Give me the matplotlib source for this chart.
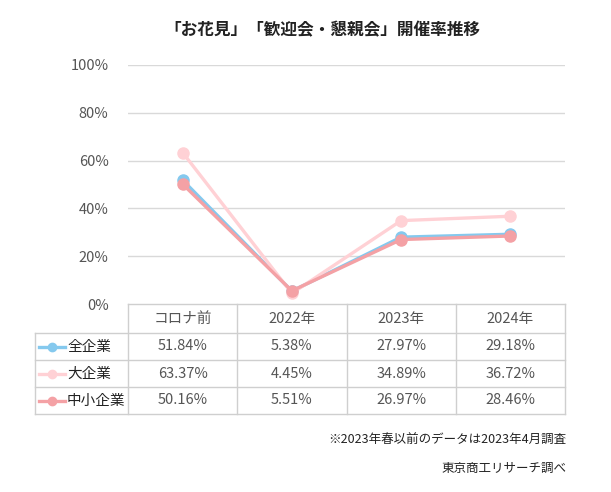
import matplotlib
matplotlib.use("Agg")
import matplotlib.pyplot as plt
from matplotlib.lines import Line2D

plt.rcParams['font.family'] = ['Noto Sans CJK JP', 'DejaVu Sans']

title = "「お花見」「歓迎会・懇親会」開催率推移"
categories = ["コロナ前", "2022年", "2023年", "2024年"]
series_names = ["全企業", "大企業", "中小企業"]
all_firms = [51.84, 5.38, 27.97, 29.18]
large_firms = [63.37, 4.45, 34.89, 36.72]
small_firms = [50.16, 5.51, 26.97, 28.46]
yticks = [0, 20, 40, 60, 80, 100]
note = "※2023年春以前のデータは2023年4月調査"
source = "東京商工リサーチ調べ"

series = [all_firms, large_firms, small_firms]
colors = ["#85c9ee", "#ffd1d5", "#f4a1a5"]

W, H = 611, 492
fig = plt.figure(figsize=(W / 100, H / 100), dpi=100)

def fx(px):
    return px / W

def fy(py):
    return 1 - py / H

ax_l, ax_r, ax_t, ax_b = 128, 565, 65, 304
ax = fig.add_axes([fx(ax_l), fy(ax_b), fx(ax_r) - fx(ax_l), fy(ax_t) - fy(ax_b)])
n = len(categories)
x = list(range(n))
for vals, c in zip(series, colors):
    ax.plot(x, vals, color=c, lw=2.4, marker='o', ms=8, solid_capstyle='round', zorder=3)
ax.set_xlim(-0.5, n - 0.5)
ax.set_ylim(0, 100)
ax.set_yticks(yticks)
ax.set_yticklabels([f"{v}%" for v in yticks], fontsize=10.5, color="#555555")
ax.set_xticks([])
ax.tick_params(axis='y', length=0, pad=14)
for s in ax.spines.values():
    s.set_visible(False)
for v in yticks[1:]:
    ax.axhline(v, color="#d9d9d9", lw=1, zorder=1)
ax.set_facecolor('none')

fig.text(fx(322), fy(30), title, ha='center', va='center', fontsize=12, fontweight='bold', color="#222222")

# Table
tab_left = 35
col_edges = [ax_l + (ax_r - ax_l) * i / n for i in range(n + 1)]
row_edges = [304, 333, 360, 387, 414]
tax = fig.add_axes([0, 0, 1, 1])
tax.set_xlim(0, W)
tax.set_ylim(H, 0)
tax.axis('off')
gc = "#cfcfcf"
tax.plot([ax_l, ax_r], [row_edges[0]] * 2, color=gc, lw=1)
for yv in row_edges[1:]:
    tax.plot([tab_left, ax_r], [yv, yv], color=gc, lw=1)
tax.plot([tab_left, tab_left], [row_edges[1], row_edges[-1]], color=gc, lw=1)
for xv in col_edges:
    tax.plot([xv, xv], [row_edges[0], row_edges[-1]], color=gc, lw=1)
tc = "#555555"
for i, cat in enumerate(categories):
    cx = (col_edges[i] + col_edges[i + 1]) / 2
    tax.text(cx, (row_edges[0] + row_edges[1]) / 2, cat, ha='center', va='center', fontsize=10.5, color=tc)
for r, (name, vals, c) in enumerate(zip(series_names, series, colors)):
    cy = (row_edges[r + 1] + row_edges[r + 2]) / 2
    tax.add_line(Line2D([tab_left + 4, tab_left + 30], [cy, cy], color=c, lw=2.4))
    tax.add_line(Line2D([tab_left + 17], [cy], color=c, marker='o', ms=6, lw=0))
    tax.text(tab_left + 32, cy, name, ha='left', va='center', fontsize=10.5, color="#222222")
    for i, v in enumerate(vals):
        cx = (col_edges[i] + col_edges[i + 1]) / 2
        tax.text(cx, cy, f"{v:.2f}%", ha='center', va='center', fontsize=10.5, color=tc)

fig.text(fx(566), fy(440), note, ha='right', va='center', fontsize=9, color="#222222")
fig.text(fx(566), fy(468), source, ha='right', va='center', fontsize=9, color="#222222")

fig.savefig("out.png", dpi=100, facecolor='white')
